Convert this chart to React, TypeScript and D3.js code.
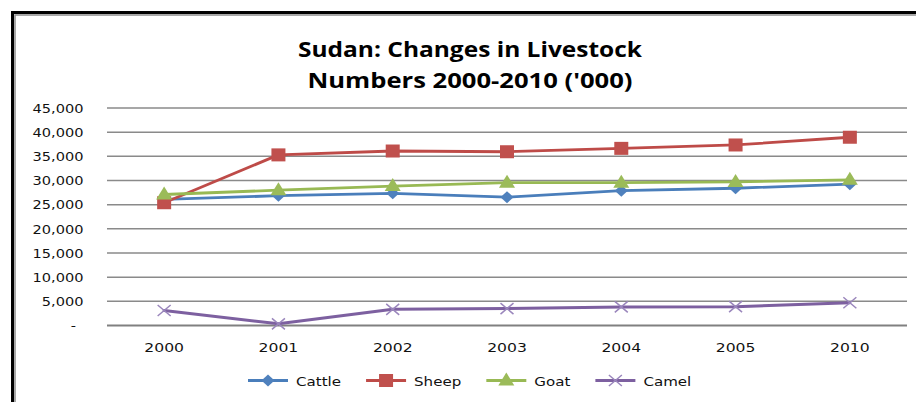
import React from "react";
import * as d3 from "d3";

const categories = ["2000", "2001", "2002", "2003", "2004", "2005", "2010"];
const cattle = [26100, 26850, 27350, 26550, 27900, 28400, 29250];
const sheep = [25400, 35300, 36100, 35950, 36650, 37350, 38950];
const goat = [27100, 28000, 28850, 29550, 29550, 29700, 30150];
const camel = [3100, 350, 3350, 3500, 3850, 3900, 4700];
const seriesNames = ["Cattle", "Sheep", "Goat", "Camel"];
const yTicks = [0, 5000, 10000, 15000, 20000, 25000, 30000, 35000, 40000, 45000];
const titleLines = ["Sudan: Changes in Livestock", "Numbers 2000-2010 ('000)"];

const W = 916;
const H = 402;
const LABEL_FONT = "DejaVu Sans, Verdana, sans-serif";

const lineColors = ["#4A7EBB", "#BE4B48", "#98B954", "#7D60A0"];
const markerColors = ["#4F81BD", "#C0504D", "#9BBB59", "#9A86BC"];
const markerKinds = ["diamond", "square", "triangle", "x"];

function measure(text: string, font: string): number {
  if (typeof document === "undefined") return text.length * 7;
  const c = document.createElement("canvas");
  const ctx = c.getContext("2d")!;
  ctx.font = font;
  return ctx.measureText(text).width;
}

function Marker({ kind, x, y, color }: { kind: string; x: number; y: number; color: string }) {
  if (kind === "diamond") {
    return <path d={`M${x},${y - 6}L${x + 6.5},${y}L${x},${y + 6}L${x - 6.5},${y}Z`} fill={color} />;
  }
  if (kind === "square") {
    return <rect x={x - 7} y={y - 6.5} width={14} height={13} fill={color} />;
  }
  if (kind === "triangle") {
    return <path d={`M${x},${y - 8}L${x + 8},${y + 5}L${x - 8},${y + 5}Z`} fill={color} />;
  }
  return (
    <path
      d={`M${x - 6.5},${y - 5.5}L${x + 6.5},${y + 5.5}M${x + 6.5},${y - 5.5}L${x - 6.5},${y + 5.5}`}
      stroke={color}
      strokeWidth={1.5}
      fill="none"
    />
  );
}

export default function App() {
  const values = [cattle, sheep, goat, camel];
  const x = d3.scalePoint<string>().domain(categories).range([107, 907]).padding(0.5);
  const y = d3.scaleLinear().domain([0, 45000]).range([325.5, 108]);
  const line = d3
    .line<number>()
    .x((_, i) => x(categories[i])!)
    .y((d) => y(d));
  const fmt = d3.format(",");

  const legendFontSize = 13;
  const sxLegend = 1.16;
  const legendWidths = seriesNames.map(
    (n) => measure(n, `${legendFontSize}px ${LABEL_FONT}`) * sxLegend
  );
  const legendStart = 248;
  const legendX: number[] = [];
  let cur = legendStart;
  legendWidths.forEach((w) => {
    legendX.push(cur);
    cur += 40 + 8 + w + 25;
  });
  const legendY = 380.5;

  return (
    <svg
      width={W}
      height={H}
      style={{ position: "absolute", left: 0, top: 0, display: "block", background: "#fff" }}
    >
      <rect x={0} y={0} width={W} height={H} fill="#fff" />
      {/* frame */}
      <path d={`M12.5,${H + 5}V12.5H${W + 5}`} stroke="#000" strokeWidth={3} fill="none" />
      <path d={`M15,${H + 5}V15H${W + 5}`} stroke="#8c8c8c" strokeWidth={1.5} fill="none" />

      {/* title */}
      {titleLines.map((t, i) => (
        <text
          key={t}
          x={470}
          y={57 + i * 30.5}
          textAnchor="middle"
          fontFamily="Open Sans, sans-serif"
          fontWeight="bold"
          fontSize={22}
          textLength={i === 0 ? 344 : 325}
          lengthAdjust="spacingAndGlyphs"
          fill="#000"
        >
          {t}
        </text>
      ))}

      {/* gridlines */}
      {yTicks.map((t) => (
        <line
          key={t}
          x1={107}
          x2={907}
          y1={y(t)}
          y2={y(t)}
          stroke={t === 0 ? "#808080" : "#8a8a8a"}
          strokeWidth={t === 0 ? 2 : 1.5}
        />
      ))}

      {/* y labels */}
      {yTicks.map((t) => (
        <text
          key={t}
          transform={`translate(${t === 0 ? 76 : 83.5},${y(t) + 4.8}) scale(1.12,1)`}
          textAnchor="end"
          fontFamily={LABEL_FONT}
          fontSize={13}
          fill="#111"
        >
          {t === 0 ? "-" : fmt(t)}
        </text>
      ))}

      {/* x labels */}
      {categories.map((c) => (
        <text
          key={c}
          transform={`translate(${x(c)},352) scale(1.2,1)`}
          textAnchor="middle"
          fontFamily={LABEL_FONT}
          fontSize={13}
          fill="#111"
        >
          {c}
        </text>
      ))}

      {/* series */}
      {values.map((v, si) => (
        <g key={seriesNames[si]}>
          <path
            d={line(v) || ""}
            fill="none"
            stroke={lineColors[si]}
            strokeWidth={si === 3 ? 3 : 2.8}
            strokeLinejoin="round"
            strokeLinecap="round"
          />
          {v.map((d, i) => (
            <Marker
              key={i}
              kind={markerKinds[si]}
              x={x(categories[i])!}
              y={y(d)}
              color={markerColors[si]}
            />
          ))}
        </g>
      ))}

      {/* legend */}
      {seriesNames.map((n, si) => (
        <g key={n}>
          <line
            x1={legendX[si]}
            x2={legendX[si] + 40}
            y1={legendY}
            y2={legendY}
            stroke={lineColors[si]}
            strokeWidth={2.8}
          />
          <Marker kind={markerKinds[si]} x={legendX[si] + 20} y={legendY} color={markerColors[si]} />
          <text
            transform={`translate(${legendX[si] + 48},${legendY + 5}) scale(${sxLegend},1)`}
            fontFamily={LABEL_FONT}
            fontSize={legendFontSize}
            fill="#111"
          >
            {n}
          </text>
        </g>
      ))}
    </svg>
  );
}
